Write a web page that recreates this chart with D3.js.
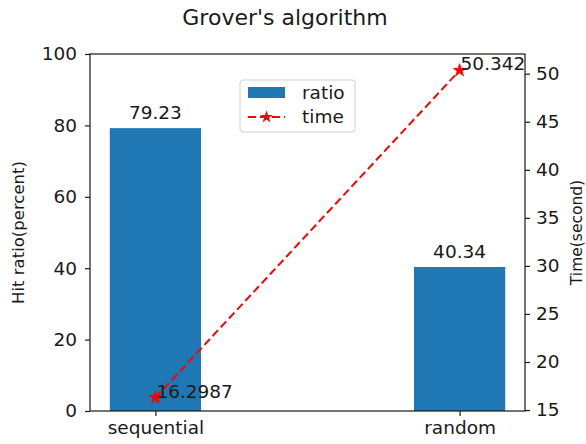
<!DOCTYPE html>
<html><head><meta charset="utf-8">
<script src="https://cdn.jsdelivr.net/npm/d3@7/dist/d3.min.js"></script>
<style>body{margin:0;background:#fff}svg{display:block}text{font-family:"DejaVu Sans",sans-serif;fill:#1a1a1a}</style>
</head><body><svg id="c" width="586" height="444"></svg>
<script>
const categories = ["sequential", "random"];
const ratioValues = [79.23, 40.34];
const timeValues = [16.2987, 50.342];
const leftTicks = [0, 20, 40, 60, 80, 100];
const rightTicks = [15, 20, 25, 30, 35, 40, 45, 50];

const W = 586, H = 444;
const m = {l: 90, r: 61, t: 54, b: 33};
const svg = d3.select("#c");
const iw = W - m.l - m.r, ih = H - m.t - m.b;
const g = svg.append("g").attr("transform", `translate(${m.l},${m.t})`);

const x = d3.scaleLinear().domain([-0.215, 1.215]).range([0, iw]);
const yL = d3.scaleLinear().domain([0, 100]).range([ih, 0]);
const yR = d3.scaleLinear().domain([14.9, 52.05]).range([ih, 0]);
const bw = 0.3;
const fs = 18.5;

// bars
g.selectAll("rect.bar").data(categories).join("rect")
  .attr("x", (d, i) => x(i - bw / 2)).attr("width", x(bw) - x(0))
  .attr("y", (d, i) => yL(ratioValues[i])).attr("height", (d, i) => ih - yL(ratioValues[i]))
  .attr("fill", "#1f77b4");
g.selectAll("text.bl").data(categories).join("text")
  .attr("x", (d, i) => x(i)).attr("y", (d, i) => yL(ratioValues[i]) - 9)
  .attr("text-anchor", "middle").attr("font-size", fs)
  .text((d, i) => ratioValues[i].toFixed(2));

// axes
function styleAxis(sel) {
  sel.selectAll("text").attr("font-size", fs).attr("fill", "#1a1a1a");
  sel.selectAll("line").attr("stroke", "#1a1a1a").attr("stroke-width", 1.2);
  sel.select(".domain").remove();
}
const ax = g.append("g").attr("transform", `translate(0,${ih})`)
  .call(d3.axisBottom(x).tickValues([0, 1]).tickFormat(i => categories[i]).tickSize(5).tickPadding(5));
styleAxis(ax);
const al = g.append("g").call(d3.axisLeft(yL).tickValues(leftTicks).tickSize(5).tickPadding(8));
styleAxis(al);
const ar = g.append("g").attr("transform", `translate(${iw},0)`)
  .call(d3.axisRight(yR).tickValues(rightTicks).tickSize(5).tickPadding(6));
styleAxis(ar);

g.append("rect").attr("width", iw).attr("height", ih).attr("fill", "none")
  .attr("stroke", "#1a1a1a").attr("stroke-width", 1.2);

// line
const line = d3.line().x((d, i) => x(i)).y(d => yR(d));
g.append("path").datum(timeValues).attr("d", line).attr("fill", "none")
  .attr("stroke", "red").attr("stroke-width", 2).attr("stroke-dasharray", "8,4");
const star = d3.symbol().type(d3.symbolStar).size(50);
g.selectAll("path.pt").data(timeValues).join("path")
  .attr("transform", (d, i) => `translate(${x(i)},${yR(d)})`)
  .attr("d", star).attr("fill", "red").attr("stroke", "red").attr("stroke-width", 0.8);
g.selectAll("text.pl").data(timeValues).join("text")
  .attr("x", (d, i) => x(i) + 1).attr("y", d => yR(d))
  .attr("font-size", fs).text(d => String(d));

// axis labels
svg.append("text").attr("transform", `translate(24,${m.t + ih / 2}) rotate(-90)`)
  .attr("text-anchor", "middle").attr("font-size", 16.5).text("Hit ratio(percent)");
svg.append("text").attr("transform", `translate(582,${m.t + ih / 2}) rotate(-90)`)
  .attr("text-anchor", "middle").attr("font-size", 15.5).text("Time(second)");

// title
svg.append("text").attr("x", 285).attr("y", 25).attr("text-anchor", "middle")
  .attr("font-size", 22).text("Grover's algorithm");

// legend
const lg = svg.append("g").attr("transform", "translate(240,80)");
lg.append("rect").attr("width", 115).attr("height", 52).attr("rx", 3)
  .attr("fill", "white").attr("fill-opacity", 0.8).attr("stroke", "#d0d0d0");
lg.append("rect").attr("x", 8).attr("y", 7).attr("width", 37).attr("height", 11).attr("fill", "#1f77b4");
lg.append("text").attr("x", 62).attr("y", 19).attr("font-size", fs).text("ratio");
lg.append("line").attr("x1", 8).attr("x2", 45).attr("y1", 37).attr("y2", 37)
  .attr("stroke", "red").attr("stroke-width", 2).attr("stroke-dasharray", "8,4");
lg.append("path").attr("transform", "translate(26.5,37)").attr("d", star).attr("fill", "red");
lg.append("text").attr("x", 62).attr("y", 43).attr("font-size", fs).text("time");
</script></body></html>
